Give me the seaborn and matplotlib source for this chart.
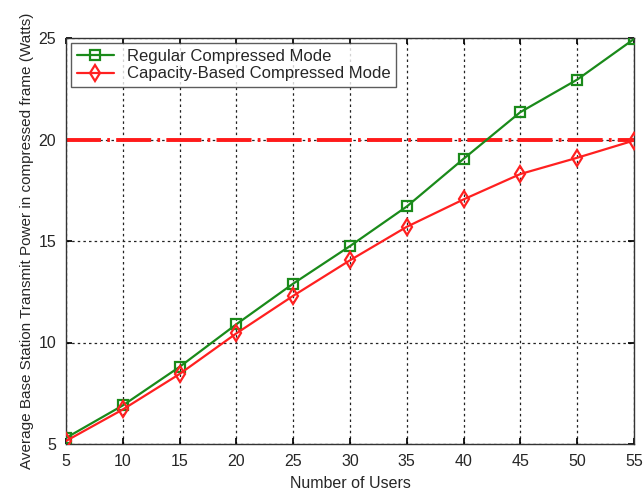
import matplotlib
matplotlib.use("Agg")
import matplotlib.pyplot as plt
import seaborn as sns
import pandas as pd

users = [5, 10, 15, 20, 25, 30, 35, 40, 45, 50, 55]
regular_power = [5.3, 6.9, 8.8, 10.9, 12.9, 14.75, 16.7, 19.05, 21.35, 22.95, 24.95]
capacity_power = [5.15, 6.7, 8.45, 10.45, 12.3, 14.05, 15.7, 17.05, 18.3, 19.1, 19.95]
power_limit = 20
x_ticks = [5, 10, 15, 20, 25, 30, 35, 40, 45, 50, 55]
y_ticks = [5, 10, 15, 20, 25]

sns.set_theme(style="white")
plt.rcParams["font.family"] = ["Liberation Sans", "DejaVu Sans"]

fig = plt.figure(figsize=(6.43, 4.92), dpi=100)
ax = fig.add_axes([66 / 643, 48 / 492, 568 / 643, 406 / 492])

df = pd.DataFrame({"users": users, "regular": regular_power, "capacity": capacity_power})

ax.axhline(power_limit, color="#ff1a1a", lw=2.8, ls=(0, (9, 1.6, 0.7, 1.6)), zorder=2)

sns.lineplot(data=df, x="users", y="regular", ax=ax, color="#1a8a1a", lw=1.6,
             marker="s", markersize=7, markerfacecolor="none", markeredgecolor="#1a8a1a",
             markeredgewidth=1.6, label="Regular Compressed Mode", zorder=3)
sns.lineplot(data=df, x="users", y="capacity", ax=ax, color="#ff2020", lw=1.6,
             marker="d", markersize=8, markerfacecolor="none", markeredgecolor="#ff2020",
             markeredgewidth=1.6, label="Capacity-Based Compressed Mode", zorder=3)

ax.set_xlim(5, 55)
ax.set_ylim(5, 25)
ax.set_xticks(x_ticks)
ax.set_yticks(y_ticks)
ax.grid(True, color="#222222", ls=(0, (2, 2.5)), lw=0.9)
ax.tick_params(direction="in", length=4, labelsize=11.5, color="black", pad=7,
               top=True, right=True, bottom=True, left=True)
for s in ax.spines.values():
    s.set_color("#333333")
    s.set_linewidth(1.0)

ax.set_xlabel("Number of Users", fontsize=11.5, labelpad=5)
ax.set_ylabel("Average Base Station Transmit Power in compressed frame (Watts)", fontsize=11,
              labelpad=3)

leg = ax.legend(loc="upper left", fontsize=12, frameon=True, fancybox=False,
                edgecolor="#333333", borderpad=0.35, labelspacing=0.15,
                handlelength=2.2, handletextpad=0.8, borderaxespad=0.3)
leg.get_frame().set_linewidth(1.0)

fig.savefig("out.png", dpi=100)
